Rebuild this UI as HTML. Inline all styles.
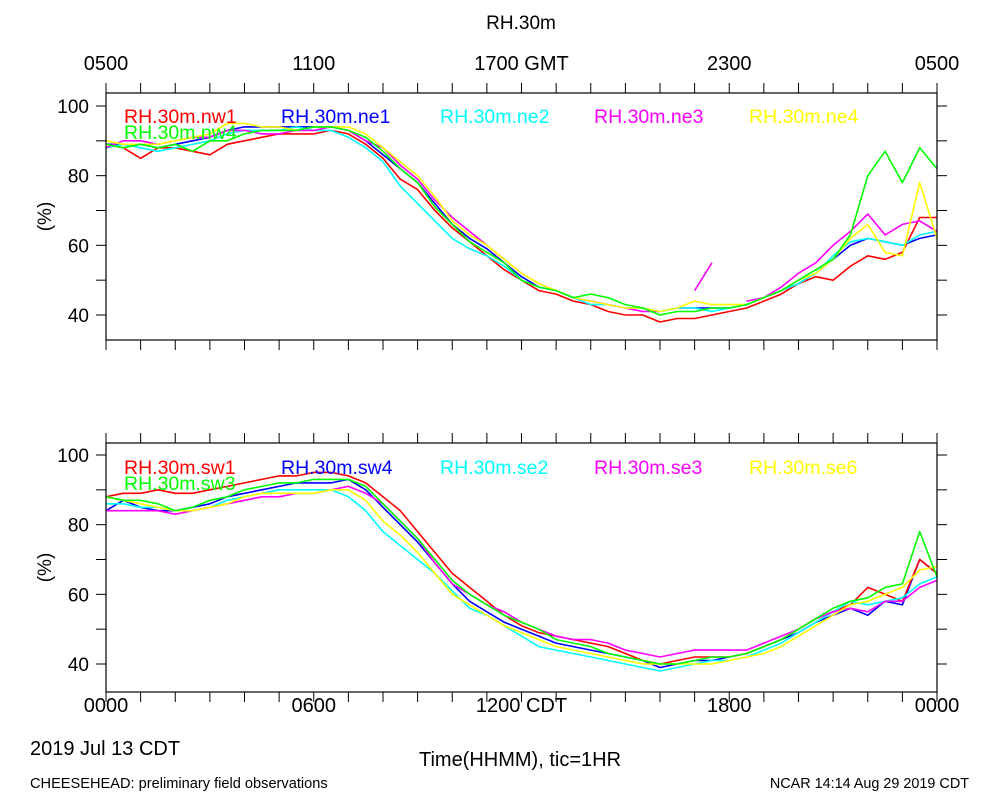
<!DOCTYPE html>
<html><head><meta charset="utf-8"><style>
body{margin:0;background:#fff;}
svg{display:block;font-family:"Liberation Sans",sans-serif;}
</style></head><body>
<svg id="chart" width="1000" height="800" viewBox="0 0 1000 800">
<rect width="1000" height="800" fill="#fff"/>
<text x="521" y="29" font-size="19" text-anchor="middle">RH.30m</text>
<g id="top"></g>
<g id="bot"></g>
<text x="30" y="755" font-size="20">2019 Jul 13 CDT</text>
<text x="520" y="766" font-size="20" text-anchor="middle">Time(HHMM), tic=1HR</text>
<text x="30" y="788" font-size="14.6">CHEESEHEAD: preliminary field observations</text>
<text x="969" y="788" font-size="14.4" text-anchor="end">NCAR 14:14 Aug 29 2019 CDT</text>
</svg>
<script>
const hours = [0,0.5,1,1.5,2,2.5,3,3.5,4,4.5,5,5.5,6,6.5,7,7.5,8,8.5,9,9.5,10,10.5,11,11.5,12,12.5,13,13.5,14,14.5,15,15.5,16,16.5,17,17.5,18,18.5,19,19.5,20,20.5,21,21.5,22,22.5,23,23.5,24];
const yTicks = [40,50,60,70,80,90,100];
const yLabels = [40,60,80,100];
const topXLabels = ["0500","1100","1700 GMT","2300","0500"];
const botXLabels = ["0000","0600","1200 CDT","1800","0000"];
const topNames = ["RH.30m.nw1","RH.30m.ne1","RH.30m.ne2","RH.30m.ne3","RH.30m.ne4","RH.30m.nw4"];
const botNames = ["RH.30m.sw1","RH.30m.sw4","RH.30m.se2","RH.30m.se3","RH.30m.se6","RH.30m.sw3"];
const colors = ["#ff0000","#0000ff","#00ffff","#ff00ff","#ffff00","#00ff00"];
const nw1 = [89,88,85,88,88,87,86,89,90,91,92,92,92,93,92,89,85,79,76,70,65,61,57,53,50,47,46,44,43,41,40,40,38,39,39,40,41,42,44,46,49,51,50,54,57,56,58,68,68];
const ne1 = [89,89,89,88,89,90,91,93,94,94,94,94,94,94,93,90,86,82,78,72,66,62,59,55,51,48,47,45,44,43,42,42,41,42,42,42,42,43,45,47,49,52,56,60,62,61,60,62,63];
const ne2 = [88,89,88,87,88,89,90,92,93,93,93,94,93,93,91,88,84,77,72,67,62,59,57,54,50,48,47,45,43,43,42,42,41,42,42,41,42,43,45,47,49,52,57,61,62,61,60,63,64];
const ne3 = [88,90,90,89,90,91,91,93,93,92,92,93,93,94,93,90,88,83,79,73,68,64,60,56,52,49,47,45,44,43,42,41,41,null,47,55,null,44,45,48,52,55,60,64,69,63,66,67,64];
const ne4 = [90,89,89,89,90,91,92,95,95,94,94,93,94,94,94,92,88,84,80,74,67,63,60,56,52,49,47,45,44,43,42,42,41,42,44,43,43,43,45,47,50,52,56,62,66,58,57,78,62];
const nw4 = [89,88,89,88,89,87,90,90,92,93,93,93,94,94,93,91,87,82,78,71,66,61,58,55,50,48,47,45,46,45,43,42,40,41,41,42,42,43,45,47,50,53,56,63,80,87,78,88,82];
const sw1 = [88,89,89,90,89,89,90,91,92,93,94,94,95,95,94,92,88,84,78,72,66,62,58,54,51,49,48,47,46,45,43,41,40,41,42,42,42,43,45,47,50,53,55,57,62,60,58,70,66];
const sw4 = [84,87,85,84,84,85,86,88,89,90,91,92,92,92,93,90,85,80,75,69,63,58,55,52,50,48,46,45,44,43,42,41,39,40,41,41,42,43,45,47,49,52,54,56,54,58,57,70,66];
const se2 = [86,86,85,85,84,84,85,87,88,89,90,90,90,90,88,84,78,74,70,66,61,56,54,51,48,45,44,43,42,41,40,39,38,39,40,41,41,42,44,46,49,52,55,58,57,58,59,63,65];
const se3 = [84,84,84,84,83,84,85,86,87,88,88,89,89,90,91,89,86,81,76,69,63,60,57,55,52,50,48,47,47,46,44,43,42,43,44,44,44,44,46,48,50,53,55,56,55,58,58,62,64];
const se6 = [88,87,86,85,84,84,85,86,88,89,89,89,89,90,90,87,81,77,72,66,60,57,54,51,49,47,45,44,43,42,41,40,40,40,40,40,41,42,43,45,48,51,54,57,58,60,62,67,68];
const sw3 = [88,87,87,86,84,85,87,88,90,91,92,92,93,93,93,91,86,81,76,70,64,60,57,54,52,50,47,46,45,43,42,41,40,40,41,42,42,43,45,47,50,53,56,58,59,62,63,78,65];

const NS="http://www.w3.org/2000/svg";
const X0=106,X1=937;
const xs=h=>X0+(X1-X0)*h/24;
function mk(tag,attrs,parent){const e=document.createElementNS(NS,tag);for(const k in attrs)e.setAttribute(k,attrs[k]);parent.appendChild(e);return e;}

function panel(g,top,bottom,y40,y100,series,names,xLabels,labelY,legendY,pname){
  const ys=v=>y40+(y100-y40)*(v-40)/60;
  const order=[1,0,2,3,4,5];
  order.forEach(si=>{
    const data=series[si];let d="";let pen=false;
    data.forEach((v,i)=>{
      if(v===null){pen=false;return;}
      d+=(pen?"L":"M")+xs(hours[i]).toFixed(1)+","+ys(v).toFixed(1);pen=true;
    });
    const p=mk("path",{d:d,fill:"none",stroke:colors[si],"stroke-width":1.6,"stroke-linejoin":"round"},g);
    
    
  });
  const box=mk("rect",{x:X0,y:top,width:X1-X0,height:bottom-top,fill:"none",stroke:"#000","stroke-width":1.2},g);
  
  
  for(let h=0;h<=24;h++){
    const x=xs(h);
    const t1=mk("line",{x1:x,x2:x,y1:top,y2:top-10,stroke:"#000","stroke-width":1},g);
    
    
    const t2=mk("line",{x1:x,x2:x,y1:bottom,y2:bottom+10,stroke:"#000","stroke-width":1},g);
    
    
  }
  yTicks.forEach(v=>{
    const y=ys(v);
    const a=mk("line",{x1:X0-10,x2:X0,y1:y,y2:y,stroke:"#000","stroke-width":1},g);
    
    
    const b=mk("line",{x1:X1,x2:X1+10,y1:y,y2:y,stroke:"#000","stroke-width":1},g);
    
    
  });
  yLabels.forEach(v=>{
    const t=mk("text",{x:X0-17,y:ys(v)+7,"font-size":19,"text-anchor":"end"},g);
    t.textContent=v;
    
    
  });
  xLabels.forEach((s,i)=>{
    const t=mk("text",{x:xs(i*6),y:labelY,"font-size":20,"text-anchor":"middle"},g);
    t.textContent=s;
    
    
  });
  const yt=mk("text",{x:0,y:0,"font-size":19,"text-anchor":"middle",transform:"translate(51,"+((top+bottom)/2)+") rotate(-90)"},g);
  yt.textContent="(%)";
  
  
  const lx=[124,281,440,594,749,124];
  names.forEach((n,i)=>{
    const t=mk("text",{x:lx[i],y:i<5?legendY:legendY+16,"font-size":19.5,fill:colors[i]},g);
    t.textContent=n;
    
    
  });
}
panel(document.getElementById("top"),93,340,315,106,[nw1,ne1,ne2,ne3,ne4,nw4],topNames,topXLabels,70,123,"top");
panel(document.getElementById("bot"),443,692,664,455,[sw1,sw4,se2,se3,se6,sw3],botNames,botXLabels,712,474,"bottom");
</script>
</body></html>
